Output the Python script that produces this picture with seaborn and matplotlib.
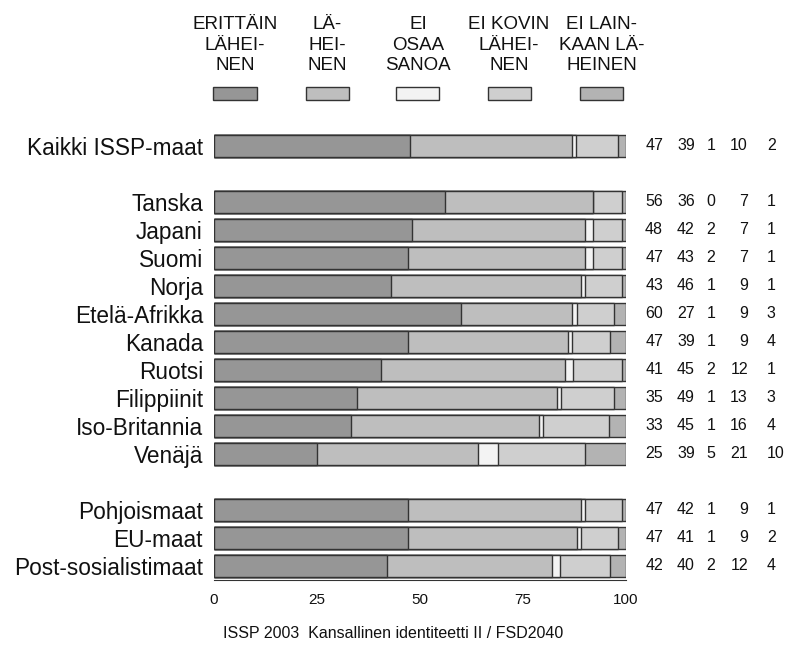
import matplotlib.pyplot as plt
import seaborn as sns
import pandas as pd
import numpy as np
from matplotlib.patches import Rectangle

# row labels and their slot positions (gaps between groups)
labels = ["Kaikki ISSP-maat", "Tanska", "Japani", "Suomi", "Norja", "Etelä-Afrikka",
          "Kanada", "Ruotsi", "Filippiinit", "Iso-Britannia", "Venäjä",
          "Pohjoismaat", "EU-maat", "Post-sosialistimaat"]
positions = [0, 2, 3, 4, 5, 6, 7, 8, 9, 10, 11, 13, 14, 15]

# percentages per answer category
erittain = [47, 56, 48, 47, 43, 60, 47, 41, 35, 33, 25, 47, 47, 42]
laheinen = [39, 36, 42, 43, 46, 27, 39, 45, 49, 45, 39, 42, 41, 40]
ei_osaa = [1, 0, 2, 2, 1, 1, 1, 2, 1, 1, 5, 1, 1, 2]
ei_kovin = [10, 7, 7, 7, 9, 9, 9, 12, 13, 16, 21, 9, 9, 12]
ei_lainkaan = [2, 1, 1, 1, 1, 3, 4, 1, 3, 4, 10, 1, 2, 4]

categories = ["ERITTÄIN\nLÄHEI-\nNEN", "LÄ-\nHEI-\nNEN", "EI\nOSAA\nSANOA",
              "EI KOVIN\nLÄHEI-\nNEN", "EI LAIN-\nKAAN LÄ-\nHEINEN"]
colors = ["#969696", "#bebebe", "#f3f3f3", "#cfcfcf", "#b3b3b3"]

series = [erittain, laheinen, ei_osaa, ei_kovin, ei_lainkaan]
vals = np.array(series, dtype=float)
# bars are drawn to fill 100 (rounded figures do not always add up)
cum = np.cumsum(vals, axis=0) / vals.sum(axis=0) * 100

sns.set_style("white")
plt.rcParams["font.family"] = ["Liberation Sans", "DejaVu Sans"]

fig = plt.figure(figsize=(7.87, 6.51), dpi=100)
ax = fig.add_axes([214 / 787, 1 - 580 / 651, 412 / 787, 448 / 651])

# stacked bars: draw cumulative totals back to front
for i in range(4, -1, -1):
    df = pd.DataFrame({"pos": positions, "value": cum[i]})
    sns.barplot(data=df, x="value", y="pos", orient="h", native_scale=True,
                color=colors[i], saturation=1, width=0.78, errorbar=None,
                edgecolor="#333333", linewidth=1.0, ax=ax)

ax.set_xlim(0, 100)
ax.set_ylim(15.5, -0.5)
ax.set_yticks(positions)
ax.set_yticklabels(labels, fontsize=16.3, color="#111111")
ax.set_xticks([0, 25, 50, 75, 100])
ax.set_xticklabels(["0", "25", "50", "75", "100"], fontsize=11, color="#111111")
ax.tick_params(axis="y", length=0, pad=8)
ax.tick_params(axis="x", length=5, width=1, direction="out", color="#333333", pad=4)
ax.set_xlabel("")
ax.set_ylabel("")
for s in ["top", "right", "left"]:
    ax.spines[s].set_visible(False)
ax.spines["bottom"].set_color("#333333")

# value columns on the right
col_x = [109.0, 116.7, 120.6, 129.6, 134.2]
col_ha = ["right", "right", "center", "right", "left"]
for j, p in enumerate(positions):
    for i in range(5):
        ax.text(col_x[i], p, str(series[i][j]), ha=col_ha[i], va="center",
                fontsize=11.5, color="#111111", clip_on=False)

# legend on top: labels above boxes
leg_cx = [235, 327, 418, 509, 602]
for i in range(5):
    cx = leg_cx[i] / 787
    fig.text(cx, 1 - 45 / 651, categories[i], ha="center", va="center",
             fontsize=13.5, linespacing=1.3, color="#111111")
    fig.add_artist(Rectangle((cx - 21.5 / 787, 1 - 100 / 651), 43 / 787, 13 / 651,
                             transform=fig.transFigure, facecolor=colors[i],
                             edgecolor="#333333", linewidth=1.0))

fig.text(0.5, 1 - 633 / 651, "ISSP 2003  Kansallinen identiteetti II / FSD2040",
         ha="center", va="center", fontsize=11.5, color="#111111")

fig.savefig("out.png", dpi=100)
